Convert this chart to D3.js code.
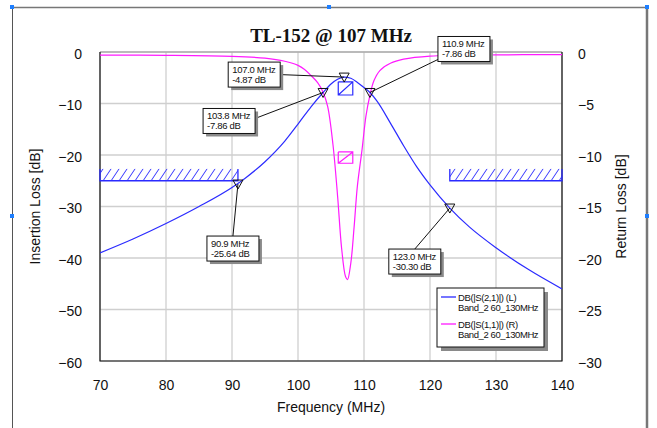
<!DOCTYPE html>
<html><head><meta charset="utf-8">
<script src="https://cdn.jsdelivr.net/npm/d3@7"></script>
<style>
body{margin:0;background:#fff;}
text{font-family:"Liberation Sans",Arial,sans-serif;}
</style></head>
<body><svg id="c" width="657" height="428"></svg>
<script>
// ---- data ----
const title = "TL-152 @ 107 MHz";
const xTicks = [70,80,90,100,110,120,130,140];
const leftTicks = [0,-10,-20,-30,-40,-50,-60];
const rightTicks = [0,-5,-10,-15,-20,-25,-30];
const s21Freq = [70,75,80,85,90,92,95,98,100,102,103.8,105,106,107,108,109,110,110.9,112,114,116,118,120,123,126,130,135,140];
const s21dB   = [-39,-36.3,-33.3,-30,-26.3,-24.5,-21.3,-17.3,-14,-10.6,-7.86,-6.2,-5.3,-4.87,-5.1,-5.9,-6.9,-7.86,-9.6,-13.8,-18.2,-22.3,-25.8,-30.3,-34,-38,-42.3,-46];
const s11Freq = [70,80,90,95,98,100,101,102,103,103.8,104.5,105.3,106,106.6,107.2,107.5,108,108.5,109,109.7,110.3,110.9,111.5,112.4,114,116,120,130,140];
const s11dB   = [-0.3,-0.32,-0.42,-0.6,-0.9,-1.3,-1.7,-2.3,-3.0,-3.9,-5.3,-9.0,-14,-19,-21.8,-22.1,-20.5,-17,-13,-9.5,-6.2,-4.2,-2.8,-1.8,-1.1,-0.7,-0.4,-0.28,-0.25];
const markerFreq = [107.0,110.9,103.8,90.9,123.0];
const markerDB   = [-4.87,-7.86,-7.86,-25.64,-30.30];
const legendNames = ["DB(|S(2,1)|) (L)","DB(|S(1,1)|) (R)"];
const legendSub = "Band_2 60_130MHz";
// masks: [f0, f1, dBlow, dBhigh]
const s21Masks = [[70,90.9,-25,-22.7],[123,140,-25,-22.7]];
const s21Box = [106.1,108.3,-8.35,-5.8];
const s11Box = [106.1,108.3,-10.8,-9.7];

// ---- layout ----
const svg = d3.select("#c");
const L=100,R=562,T=52,B=361;
const x = d3.scaleLinear([70,140],[L,R]);
const yL = d3.scaleLinear([-60,0],[B,T]);
const yR = d3.scaleLinear([-30,0],[B,T]);
const BLUE="#2b2bff", MAG="#ff1aff";

// outer frame
svg.append("line").attr("x1",12).attr("x2",647).attr("y1",7.5).attr("y2",7.5).attr("stroke","#777").attr("stroke-width",1.5);
svg.append("line").attr("x1",12.5).attr("x2",12.5).attr("y1",7).attr("y2",428).attr("stroke","#555").attr("stroke-width",1);
svg.append("line").attr("x1",647).attr("x2",647).attr("y1",7).attr("y2",428).attr("stroke","#777").attr("stroke-width",2.5);
[[12,7],[329,7],[647,7],[12,216],[647,216]].forEach(p=>{
  svg.append("rect").attr("x",p[0]-2).attr("y",p[1]-2).attr("width",4).attr("height",4).attr("fill","#1e7fff");
});

// defs hatch
const defs = svg.append("defs");
const pat = defs.append("pattern").attr("id","hatch").attr("patternUnits","userSpaceOnUse")
  .attr("width",8).attr("height",12).attr("y",yL(-22.7));
pat.append("line").attr("x1",-1).attr("y1",12).attr("x2",7).attr("y2",0).attr("stroke",BLUE).attr("stroke-width",1);
pat.append("line").attr("x1",7).attr("y1",12).attr("x2",15).attr("y2",0).attr("stroke",BLUE).attr("stroke-width",1);

// grid
const g = svg.append("g");
g.selectAll(".vg").data(xTicks).join("line").attr("x1",d=>x(d)).attr("x2",d=>x(d)).attr("y1",T).attr("y2",B)
  .attr("stroke","#cfcfcf").attr("stroke-width",1.3);
g.selectAll(".hg").data(leftTicks).join("line").attr("x1",L).attr("x2",R).attr("y1",d=>yL(d)).attr("y2",d=>yL(d))
  .attr("stroke","#cfcfcf").attr("stroke-width",1.3);

// axes
const ax = svg.append("g").attr("transform",`translate(0,${B})`).call(d3.axisBottom(x).tickValues(xTicks).tickSize(0).tickPadding(19));
const ayl = svg.append("g").attr("transform",`translate(${L},0)`).call(d3.axisLeft(yL).tickValues(leftTicks).tickSize(0).tickPadding(18));
const ayr = svg.append("g").attr("transform",`translate(${R},0)`).call(d3.axisRight(yR).tickValues(rightTicks).tickSize(0).tickPadding(16));
[ax,ayl,ayr].forEach(a=>{a.select(".domain").remove(); a.selectAll("text").attr("font-size",14).attr("fill","#111").attr("font-family","Liberation Sans, Arial");});
ayl.selectAll("text").attr("dy","0.45em");
ayr.selectAll("text").attr("dy","0.45em");

// plot frame
svg.append("line").attr("x1",L).attr("x2",R).attr("y1",T).attr("y2",T).attr("stroke","#999").attr("stroke-width",1.2);
svg.append("path").attr("d",`M${L},${T}V${B}H${R}V${T}`).attr("fill","none").attr("stroke","#111").attr("stroke-width",1.2);

// titles
svg.append("text").attr("x",331).attr("y",42).attr("text-anchor","middle").attr("font-family","Liberation Serif, Times New Roman, serif")
  .attr("font-weight","bold").attr("font-size",19).attr("fill","#111").style("font-family","'Liberation Serif',serif").text(title);
svg.append("text").attr("x",331).attr("y",412).attr("text-anchor","middle").attr("font-size",14).attr("fill","#111").text("Frequency (MHz)");
svg.append("text").attr("transform",`translate(40,${(T+B)/2}) rotate(-90)`).attr("text-anchor","middle").attr("font-size",14).attr("fill","#111").text("Insertion Loss [dB]");
svg.append("text").attr("transform",`translate(626,${(T+B)/2}) rotate(-90)`).attr("text-anchor","middle").attr("font-size",14).attr("fill","#111").text("Return Loss [dB]");

// masks
s21Masks.forEach(m=>{
  const x0=x(m[0]),x1=x(m[1]),yb=yL(m[2]),yt=yL(m[3]);
  svg.append("rect").attr("x",x0).attr("y",yt).attr("width",x1-x0).attr("height",yb-yt).attr("fill","url(#hatch)");
  svg.append("path").attr("d",`M${x0},${yt}V${yb}H${x1}V${yt}`).attr("fill","none").attr("stroke",BLUE).attr("stroke-width",1.3);
});
function box(b,ys,col){
  const x0=x(b[0]),x1=x(b[1]),yb=ys(b[2]),yt=ys(b[3]);
  svg.append("path").attr("d",`M${x0},${yt}V${yb}H${x1}V${yt}H${x0}M${x0},${yb}L${x1},${yt}`).attr("fill","none").attr("stroke",col).attr("stroke-width",1.2);
}
box(s21Box,yL,BLUE);
box(s11Box,yR,MAG);

// curves
const clip = defs.append("clipPath").attr("id","clp").append("rect").attr("x",L).attr("y",T).attr("width",R-L).attr("height",B-T);
const line21 = d3.line().x((d,i)=>x(s21Freq[i])).y(d=>yL(d)).curve(d3.curveMonotoneX);
const line11 = d3.line().x((d,i)=>x(s11Freq[i])).y(d=>yR(d)).curve(d3.curveCatmullRom.alpha(0.5));
svg.append("path").attr("clip-path","url(#clp)").attr("d",line11(s11dB)).attr("fill","none").attr("stroke",MAG).attr("stroke-width",1.2);
svg.append("path").attr("clip-path","url(#clp)").attr("d",line21(s21dB)).attr("fill","none").attr("stroke",BLUE).attr("stroke-width",1.2);

// markers + labels (label box offsets relative to marker, layout only)
const labelOff = [[-116,-15],[68,-56],[-120,16],[-31,52],[-61,41]];
const BW=52,BH=25;
markerFreq.forEach((f,i)=>{
  const px=x(f), py=yL(markerDB[i]);
  const bx=px+labelOff[i][0], by=py+labelOff[i][1];
  // leader
  let lx, ly;
  if(i===0){lx=bx+BW; ly=by+BH/2;}
  else if(i===1){lx=bx; ly=by+BH-2;}
  else if(i===2){lx=bx+BW; ly=by+10;}
  else {lx=bx+BW/2; ly=by;}
  svg.append("line").attr("x1",lx).attr("y1",ly).attr("x2",px).attr("y2",py).attr("stroke","#111").attr("stroke-width",1);
  svg.append("path").attr("d",`M${px-5},${py-4}L${px+5},${py-4}L${px},${py+5}Z`).attr("fill","none").attr("stroke","#111").attr("stroke-width",1);
  svg.append("rect").attr("x",bx+3).attr("y",by+3).attr("width",BW).attr("height",BH).attr("fill","#8a8a8a");
  svg.append("rect").attr("x",bx).attr("y",by).attr("width",BW).attr("height",BH).attr("fill","#fff").attr("stroke","#111").attr("stroke-width",1);
  const t = svg.append("text").attr("font-size",9.5).attr("fill","#111").attr("letter-spacing","-0.3");
  t.append("tspan").attr("x",bx+4).attr("y",by+10.5).text(f.toFixed(1)+" MHz");
  t.append("tspan").attr("x",bx+4).attr("y",by+21).text(markerDB[i].toFixed(2)+" dB");
});

// legend
const lx0=437, ly0=288, lw=107, lh=59;
svg.append("rect").attr("x",lx0+4).attr("y",ly0+4).attr("width",lw).attr("height",lh).attr("fill","#8a8a8a");
svg.append("rect").attr("x",lx0).attr("y",ly0).attr("width",lw).attr("height",lh).attr("fill","#fff").attr("stroke","#111").attr("stroke-width",1);
[BLUE,MAG].forEach((c,i)=>{
  const yy = ly0+9+i*27;
  svg.append("line").attr("x1",lx0+4).attr("x2",lx0+19).attr("y1",yy).attr("y2",yy).attr("stroke",c).attr("stroke-width",1.3);
  const t = svg.append("text").attr("font-size",9.5).attr("fill","#111").attr("letter-spacing","-0.4");
  t.append("tspan").attr("x",lx0+21).attr("y",yy+3.5).text(legendNames[i]);
  t.append("tspan").attr("x",lx0+21).attr("y",yy+14).text(legendSub);
});
</script></body></html>
